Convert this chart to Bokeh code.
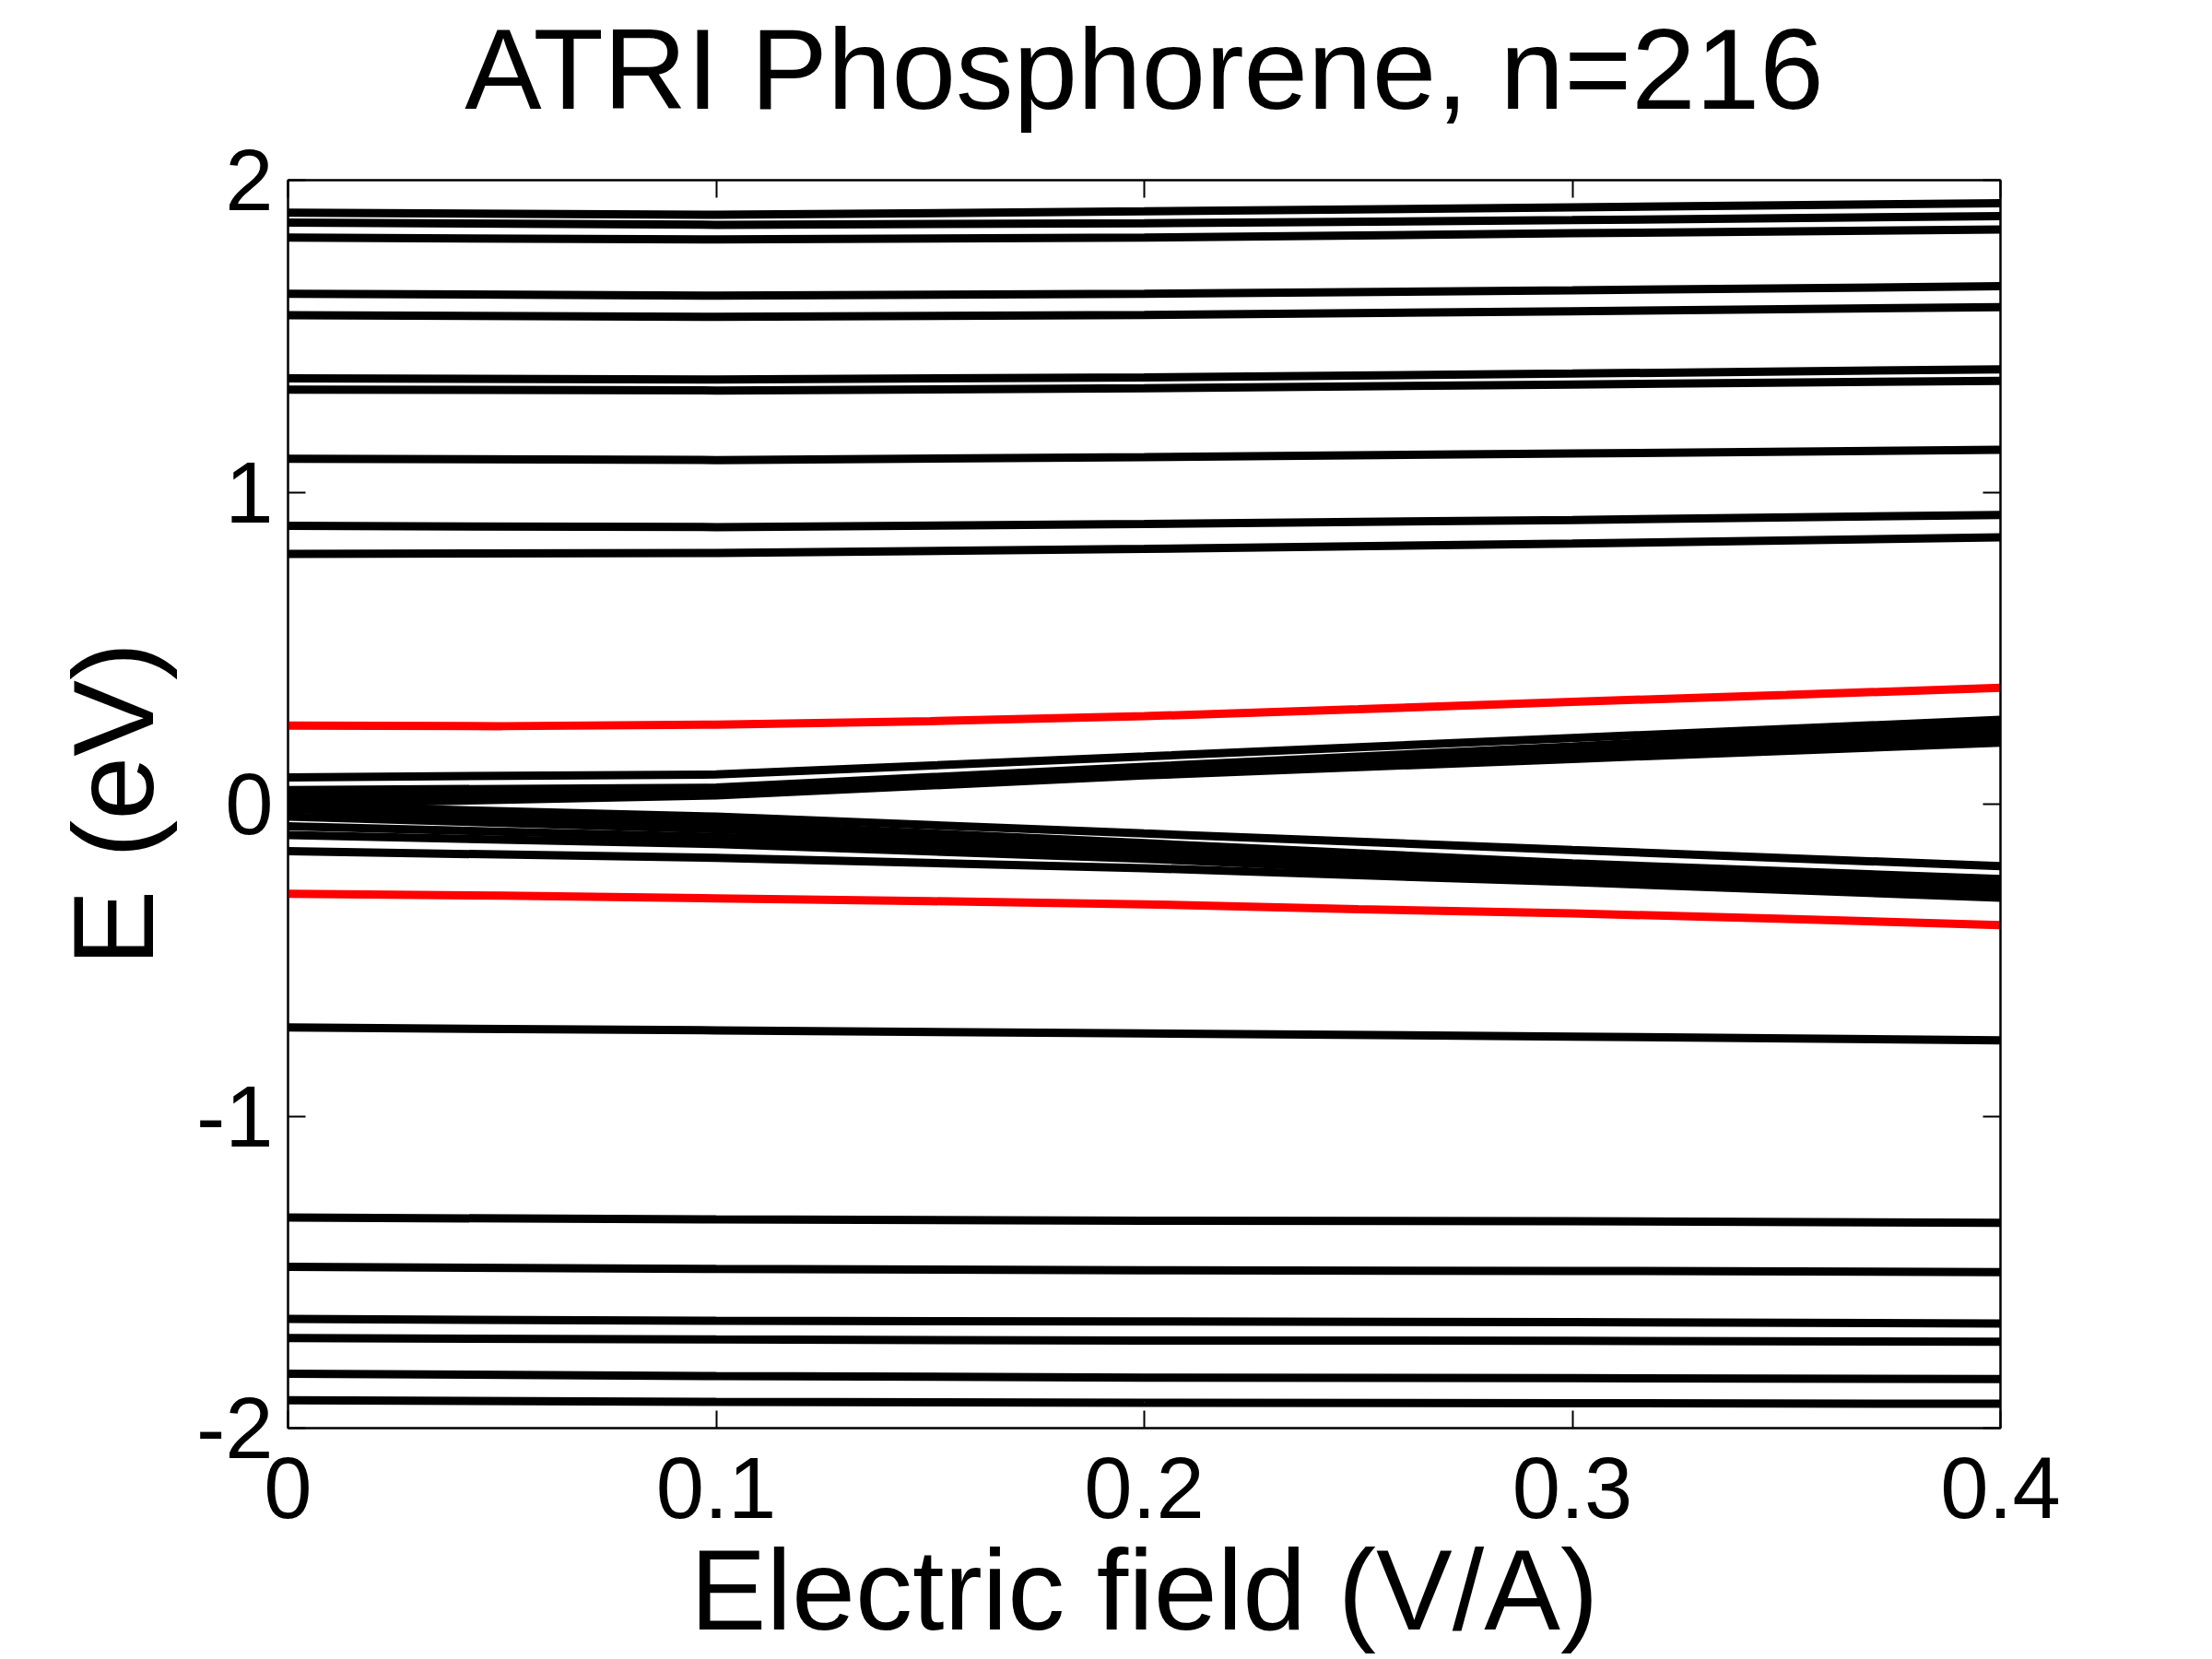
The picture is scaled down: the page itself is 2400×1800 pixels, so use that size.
from bokeh.plotting import figure
from bokeh.models import Range1d, LinearAxis, FixedTicker
from bokeh.embed import file_html
from bokeh.resources import INLINE

# ---------------- data ----------------
field5 = [0.0, 0.1, 0.2, 0.3, 0.4]
field9 = [0.0, 0.05, 0.1, 0.15, 0.2, 0.25, 0.3, 0.35, 0.4]

# nearly flat conduction-like levels (E in eV at field5)
upper_levels = [
    [1.896, 1.889, 1.900, 1.913, 1.926],
    [1.864, 1.857, 1.862, 1.872, 1.885],
    [1.816, 1.810, 1.816, 1.830, 1.842],
    [1.636, 1.630, 1.636, 1.647, 1.660],
    [1.567, 1.562, 1.568, 1.580, 1.593],
    [1.365, 1.361, 1.368, 1.380, 1.394],
    [1.329, 1.326, 1.333, 1.345, 1.357],
    [1.107, 1.103, 1.112, 1.124, 1.136],
    [0.892, 0.888, 0.898, 0.911, 0.927],
    [0.802, 0.805, 0.818, 0.835, 0.855],
]

# nearly flat valence-like levels
lower_levels = [
    [-0.716, -0.725, -0.735, -0.745, -0.757],
    [-1.325, -1.331, -1.335, -1.337, -1.342],
    [-1.483, -1.490, -1.494, -1.496, -1.500],
    [-1.650, -1.656, -1.658, -1.660, -1.665],
    [-1.711, -1.716, -1.719, -1.720, -1.723],
    [-1.826, -1.833, -1.838, -1.840, -1.843],
    [-1.911, -1.916, -1.919, -1.920, -1.922],
]

# edge states fanning out with the field
fan_up = [
    [0.086, 0.095, 0.153, 0.212, 0.270],
    [0.045, 0.053, 0.120, 0.185, 0.255],
    [0.030, 0.045, 0.111, 0.172, 0.235],
    [0.015, 0.036, 0.101, 0.158, 0.215],
    [0.000, 0.028, 0.092, 0.145, 0.197],
]
fan_down = [
    [-0.005, -0.040, -0.094, -0.147, -0.199],
    [-0.015, -0.062, -0.125, -0.190, -0.240],
    [-0.040, -0.080, -0.140, -0.205, -0.255],
    [-0.071, -0.105, -0.155, -0.220, -0.270],
    [-0.099, -0.128, -0.175, -0.235, -0.285],
    [-0.151, -0.172, -0.205, -0.250, -0.300],
]

# highlighted (red) states
red_top = [0.252, 0.250, 0.255, 0.266, 0.282, 0.304, 0.328, 0.350, 0.373]
red_bottom = [-0.2875, -0.293, -0.302, -0.311, -0.321, -0.337, -0.350, -0.368, -0.388]

x_ticks = [0, 0.1, 0.2, 0.3, 0.4]
x_tick_labels = ["0", "0.1", "0.2", "0.3", "0.4"]
y_ticks = [-2, -1, 0, 1, 2]
y_tick_labels = ["-2", "-1", "0", "1", "2"]

title_text = "ATRI Phosphorene, n=216"
FONT = "Liberation Sans"

# ---------------- figure ----------------
p = figure(
    frame_width=1858, frame_height=1354,
    min_border_left=312, min_border_right=214,
    min_border_top=195, min_border_bottom=235,
    x_range=Range1d(0, 0.4), y_range=Range1d(-2, 2),
    output_backend="svg", toolbar_location=None,
    title=title_text,
    x_axis_label="Electric field (V/A)", y_axis_label="E (eV)",
)
p.background_fill_color = "white"
p.border_fill_color = "white"
p.xgrid.visible = False
p.ygrid.visible = False
p.outline_line_color = "black"
p.outline_line_width = 2

p.title.text_font = FONT
p.title.text_font_size = "125px"
p.title.text_font_style = "normal"
p.title.align = "center"
p.title.text_color = "black"
p.title.standoff = 0

all_black = upper_levels + fan_up + fan_down + lower_levels
p.multi_line(xs=[field5] * len(all_black), ys=all_black,
             line_color="black", line_width=9, line_cap="butt")
p.line(field9, red_top, line_color="#ff0000", line_width=9, line_cap="butt")
p.line(field9, red_bottom, line_color="#ff0000", line_width=9, line_cap="butt")


def style_axis(ax, ticks, labels, show_labels=True):
    ax.ticker = FixedTicker(ticks=ticks)
    ax.major_label_overrides = {t: l for t, l in zip(ticks, labels)}
    ax.axis_line_color = "black"
    ax.axis_line_width = 2
    ax.major_tick_line_color = "black"
    ax.major_tick_line_width = 2
    ax.major_tick_in = 19
    ax.major_tick_out = 0
    ax.minor_tick_in = 0
    ax.minor_tick_out = 0
    ax.major_label_text_font = FONT
    ax.major_label_text_color = "black"
    if show_labels:
        ax.major_label_text_font_size = "94px"
    else:
        ax.major_label_text_font_size = "0px"
        ax.major_label_standoff = 0


style_axis(p.xaxis[0], x_ticks, x_tick_labels)
style_axis(p.yaxis[0], y_ticks, y_tick_labels)
p.xaxis[0].major_label_standoff = 32
p.yaxis[0].major_label_standoff = 16
for ax in (p.xaxis[0], p.yaxis[0]):
    ax.axis_label_text_font = FONT
    ax.axis_label_text_font_size = "124px"
    ax.axis_label_text_font_style = "normal"
    ax.axis_label_text_color = "black"
p.xaxis[0].axis_label_standoff = 6
p.yaxis[0].axis_label_standoff = 18

# top axis: ticks only; its blank label reserves space so the title sits high
top_ax = LinearAxis(axis_label=" ")
top_ax.axis_label_text_font = FONT
top_ax.axis_label_text_font_size = "44px"
top_ax.axis_label_standoff = 0
right_ax = LinearAxis(axis_label=None)
style_axis(top_ax, x_ticks, [""] * 5, show_labels=False)
style_axis(right_ax, y_ticks, [""] * 5, show_labels=False)
p.add_layout(top_ax, "above")
p.add_layout(right_ax, "right")

open("out.html", "w").write(file_html(p, INLINE))
